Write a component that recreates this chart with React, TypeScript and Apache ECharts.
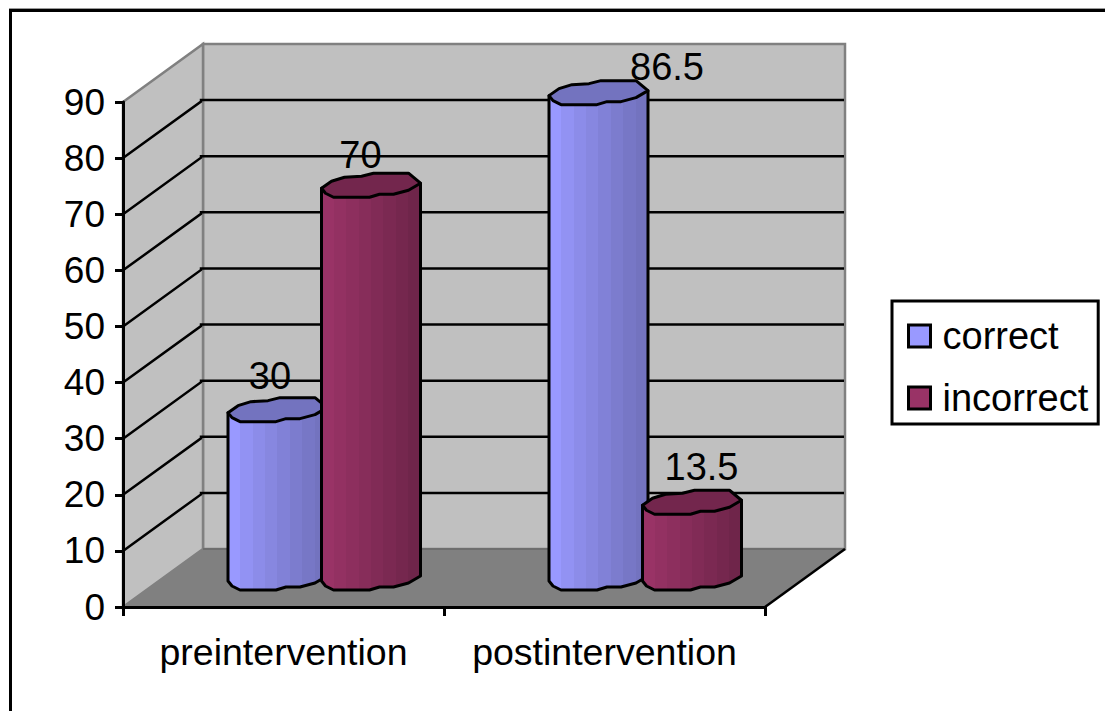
import React, { useEffect, useRef } from "react";
import * as echarts from "echarts";

// Survey results before and after the intervention (percent of answers).
const categories = ["preintervention", "postintervention"];
const correctValues = [30, 86.5];
const incorrectValues = [70, 13.5];
const valueTicks = [10, 20, 30, 40, 50, 60, 70, 80];

// Excel-style label placement: offset of each label from the left end of its cap.
const correctLabelOffsets = [[42, -37], [118, -29]];
const incorrectLabelOffsets = [[39, -33], [59, -38]];

const FONT = "'Liberation Sans', Arial, sans-serif";
const DEPTH_X = 80;
const DEPTH_Y = -58;
const BAR_W = 99;
const FLOOR_LIFT = 26;

const blueBands = ["#9999FF", "#9292F3", "#8C8CE9", "#8787E0", "#8181D7", "#7C7CCE", "#7777C6", "#7373BF"];
const maroonBands = ["#993366", "#933162", "#8D2F5E", "#872D5A", "#812B56", "#7B2952", "#75274E", "#6F254A"];

// Outline of the slightly faceted cylinder, in px relative to its left end.
const frontEdge = [[0, 0], [4, 5], [12, 9], [48, 9], [58, 6], [72, 6], [87, 2], [99, -5]];
const backEdge = [[99, -5], [87, -15], [52, -15], [40, -12], [23, -11], [10, -7], [0, 0]];

function bandGradient(colors: string[]) {
  const stops: { offset: number; color: string }[] = [];
  colors.forEach((color, i) => {
    stops.push({ offset: i / colors.length, color });
    stops.push({ offset: (i + 1) / colors.length, color });
  });
  return new echarts.graphic.LinearGradient(0, 0, 1, 0, stops);
}

function cylinderRenderer(shiftX: number, bands: string[], capColor: string, offsets: number[][], labels: number[]) {
  return (params: any, api: any) => {
    const idx = api.value(0);
    const [cx, topY] = api.coord([idx, api.value(1)]);
    const [, zeroY] = api.coord([idx, 0]);
    const left = cx + shiftX;
    const top = topY - FLOOR_LIFT;
    const bottom = zeroY - FLOOR_LIFT;
    const body = [
      [left, top],
      ...frontEdge.map(([x, y]) => [left + x, bottom + y]),
      [left + BAR_W, top - 5],
    ];
    const cap = [
      ...frontEdge.map(([x, y]) => [left + x, top + y]),
      ...backEdge.slice(1, -1).map(([x, y]) => [left + x, top + y]),
    ];
    const stroke = { stroke: "#000", lineWidth: 3, lineJoin: "round" };
    return {
      type: "group",
      children: [
        { type: "polygon", shape: { points: body }, style: { fill: bandGradient(bands), ...stroke } },
        { type: "polygon", shape: { points: cap }, style: { fill: capColor, ...stroke } },
        {
          type: "text",
          x: left + offsets[params.dataIndex][0],
          y: top + offsets[params.dataIndex][1],
          style: {
            text: String(labels[params.dataIndex]),
            font: `38px ${FONT}`,
            fill: "#000",
            align: "center",
            verticalAlign: "middle",
          },
        },
      ],
    };
  };
}

function renderWalls(params: any) {
  const { x, y, width: w, height: h } = params.coordSys;
  const bx = x + DEPTH_X;
  const by = y + DEPTH_Y;
  const edge = { stroke: "#808080", lineWidth: 2.5 };
  return {
    type: "group",
    children: [
      { type: "polygon", shape: { points: [[bx, by], [bx + w, by], [bx + w, by + h], [bx, by + h]] }, style: { fill: "#C0C0C0", ...edge } },
      { type: "polygon", shape: { points: [[x, y], [bx, by], [bx, by + h], [x, y + h]] }, style: { fill: "#C0C0C0", ...edge } },
      { type: "polygon", shape: { points: [[x, y + h], [x + w, y + h], [bx + w, by + h], [bx, by + h]] }, style: { fill: "#808080", stroke: "#808080", lineWidth: 1 } },
      { type: "line", shape: { x1: bx, y1: by + h, x2: bx + w, y2: by + h }, style: { stroke: "#6E6E6E", lineWidth: 2 } },
    ],
  };
}

function renderGridline(params: any, api: any) {
  const { x, width: w } = params.coordSys;
  const [, y] = api.coord([0, api.value(1)]);
  const bx = x + DEPTH_X;
  const by = y + DEPTH_Y;
  return {
    type: "polyline",
    shape: { points: [[x, y], [bx - 2, by + 1.5], [bx - 2, by], [bx + w - 1, by]] },
    style: { stroke: "#000", lineWidth: 2.5, fill: "none" },
  };
}

// Right-hand floor edge, which continues the category axis towards the back wall.
function renderFloorEdge(params: any) {
  const { x, y, width: w, height: h } = params.coordSys;
  return {
    type: "line",
    shape: { x1: x + w, y1: y + h, x2: x + w + DEPTH_X, y2: y + h + DEPTH_Y },
    style: { stroke: "#000", lineWidth: 2.5 },
  };
}

export default function App() {
  const ref = useRef<HTMLDivElement>(null);

  useEffect(() => {
    const chart = echarts.init(ref.current!, undefined, { renderer: "svg" });
    chart.setOption({
      animation: false,
      backgroundColor: "#fff",
      textStyle: { fontFamily: FONT },
      grid: { left: 123, top: 102, width: 642, height: 505, containLabel: false },
      xAxis: {
        type: "category",
        data: categories,
        z: 6,
        axisLine: { lineStyle: { color: "#000", width: 3 } },
        axisTick: { show: true, interval: 0, length: 9, lineStyle: { color: "#000", width: 3 } },
        axisLabel: { color: "#000", fontSize: 37.5, fontFamily: FONT, margin: 26, interval: 0 },
      },
      yAxis: {
        type: "value",
        min: 0,
        max: 90,
        interval: 10,
        z: 6,
        splitLine: { show: false },
        axisLine: { show: true, lineStyle: { color: "#000", width: 3 } },
        axisTick: { show: true, length: 8, lineStyle: { color: "#000", width: 3 } },
        axisLabel: { color: "#000", fontSize: 37, fontFamily: FONT, margin: 18 },
      },
      legend: {
        orient: "vertical",
        left: 892,
        top: 301,
        data: ["correct", "incorrect"],
        icon: "rect",
        itemWidth: 22,
        itemHeight: 22,
        itemGap: 24,
        padding: [16, 10, 7, 15],
        borderColor: "#000",
        borderWidth: 3,
        textStyle: { color: "#000", fontSize: 38, fontFamily: FONT, padding: [0, 0, 0, 7] },
        itemStyle: { borderColor: "#000", borderWidth: 3 },
      },
      graphic: [
        { type: "line", z: 20, shape: { x1: 9, y1: 8.5, x2: 1105, y2: 8.5 }, style: { stroke: "#9A9A9A", lineWidth: 1 } },
        { type: "rect", z: 20, shape: { x: 10.5, y: 10.5, width: 1200, height: 800 }, style: { fill: "none", stroke: "#000", lineWidth: 3 } },
      ],
      series: [
        { type: "custom", name: "walls", z: 1, clip: false, silent: true, data: [[0, 0]], renderItem: renderWalls },
        {
          type: "custom",
          name: "gridlines",
          z: 2,
          clip: false,
          silent: true,
          data: valueTicks.map((t) => [0, t]),
          renderItem: renderGridline,
        },
        { type: "custom", name: "floorEdge", z: 7, clip: false, silent: true, data: [[0, 0]], renderItem: renderFloorEdge },
        {
          type: "custom",
          name: "correct",
          z: 3,
          clip: false,
          itemStyle: { color: blueBands[0] },
          encode: { x: 0, y: 1 },
          data: correctValues.map((v, i) => [i, v]),
          renderItem: cylinderRenderer(-55.5, blueBands, "#7373BF", correctLabelOffsets, correctValues),
        },
        {
          type: "custom",
          name: "incorrect",
          z: 4,
          clip: false,
          itemStyle: { color: maroonBands[0] },
          encode: { x: 0, y: 1 },
          data: incorrectValues.map((v, i) => [i, v]),
          renderItem: cylinderRenderer(38, maroonBands, "#73264D", incorrectLabelOffsets, incorrectValues),
        },
      ],
    });
    return () => chart.dispose();
  }, []);

  return <div ref={ref} style={{ position: "absolute", left: 0, top: 0, width: 1105, height: 711 }} />;
}
